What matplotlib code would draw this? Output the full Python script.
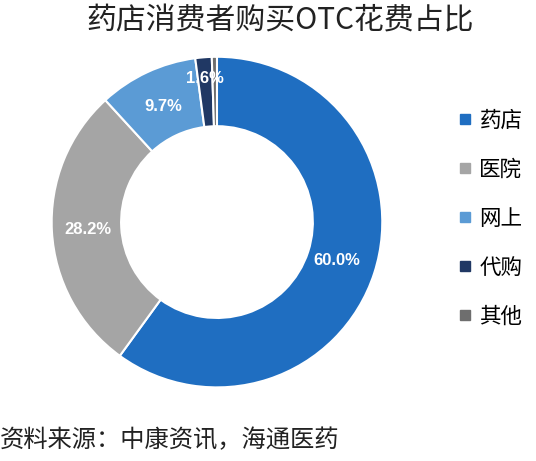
import matplotlib
matplotlib.use("Agg")
import matplotlib.pyplot as plt
from matplotlib.lines import Line2D
import numpy as np

categories = ["药店", "医院", "网上", "代购", "其他"]
values = [60.0, 28.2, 9.7, 1.6, 0.5]
colors = ["#1F6EC1", "#A5A5A5", "#5B9BD5", "#203864", "#6E6E6E"]
title = "药店消费者购买OTC花费占比"
source = "资料来源：中康资讯，海通医药"

plt.rcParams['font.family'] = ['Noto Sans CJK SC', 'DejaVu Sans']

fig = plt.figure(figsize=(5.36, 4.61), dpi=100)
ax = fig.add_axes([0.0933, 0.156, 0.623, 0.7245])

wedges, texts = ax.pie(values, colors=colors, startangle=90, counterclock=False,
                       wedgeprops=dict(width=0.42, edgecolor="white", linewidth=1.5))
ax.set_aspect("equal")

dists = [0.76, 0.78, 0.77, 0.87, None]
for w, v, d in zip(wedges, values, dists):
    if d is None:
        continue
    ang = np.deg2rad((w.theta1 + w.theta2) / 2)
    ax.text(d * np.cos(ang), d * np.sin(ang), f"{v:.1f}%", ha="center", va="center",
            color="white", fontsize=12, fontweight="bold", family=["Liberation Sans", "DejaVu Sans"])

ax.set_xlim(-1.01, 1.01)
ax.set_ylim(-1.01, 1.01)

handles = [Line2D([0], [0], marker="s", linestyle="none", markersize=7,
                  markerfacecolor=c, markeredgecolor=c) for c in colors]
fig.legend(handles, categories, loc="upper left", bbox_to_anchor=(0.838, 0.78),
           frameon=False, fontsize=15.5, labelspacing=1.25, handletextpad=0.3,
           handlelength=0.7, borderaxespad=0)

fig.text(0.522, 0.955, title, ha="center", va="center", fontsize=21.5, color="#222222")
fig.text(0.0, 0.045, source, ha="left", va="center", fontsize=17.5, color="#222222")

fig.savefig("out.png", dpi=100, facecolor="white")
